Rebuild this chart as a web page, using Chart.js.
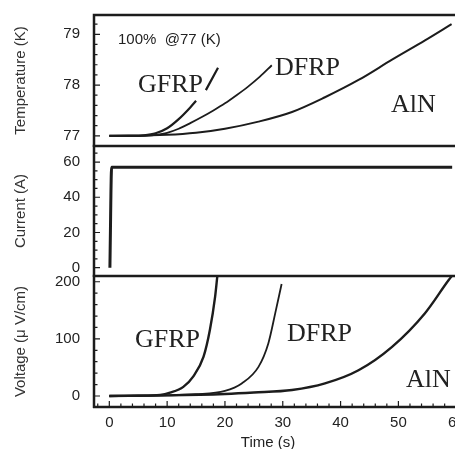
<!DOCTYPE html>
<html>
<head>
<meta charset="utf-8">
<script src="https://cdn.jsdelivr.net/npm/chart.js@4.4.0/dist/chart.umd.min.js"></script>
<style>
  html, body { margin: 0; padding: 0; background: #fff; overflow: hidden; }
  #wrap { position: relative; width: 455px; height: 449px; overflow: hidden; background: #fff; }
  canvas { position: absolute; left: 0; }
</style>
</head>
<body>
<div id="wrap">
  <canvas id="tempChart" width="470" height="171"></canvas>
  <canvas id="currChart" width="470" height="170"></canvas>
  <canvas id="voltChart" width="470" height="195"></canvas>
</div>
<script>
// shared time axis (s)
const timeTicks = [0, 10, 20, 30, 40, 50, 60];

// temperature (K)
const tempTicks = [77, 78, 79];
const gfrpTempTime = [0, 4, 6, 8, 10, 12, 14, 15, 16, 16.7, 18.8];
const gfrpTemp = [77, 77, 77.01, 77.05, 77.15, 77.33, 77.56, 77.69, null, 77.9, 78.34];
const dfrpTempTime = [0, 6, 8, 10, 12, 14, 16, 18, 20, 22, 24, 26, 28.1];
const dfrpTemp = [77, 77, 77.02, 77.06, 77.14, 77.25, 77.37, 77.5, 77.64, 77.8, 77.97, 78.16, 78.39];
const alnTempTime = [0, 10, 15, 20, 25.8, 31.6, 37.3, 43.1, 48.9, 54.6, 59.2];
const alnTemp = [77, 77.02, 77.06, 77.14, 77.28, 77.47, 77.76, 78.1, 78.5, 78.88, 79.2];

// current (A)
const currTicks = [0, 20, 40, 60];
const currTime = [0.1, 0.4, 59.3];
const curr = [0, 57, 57];

// voltage (uV/cm)
const voltTicks = [0, 100, 200];
const gfrpVoltTime = [0, 5, 8.8, 10.5, 12.8, 14.5, 16.3, 17.4, 18.3, 18.7];
const gfrpVolt = [0, 0.5, 2, 6, 16, 34, 69, 116, 174, 212];
const dfrpVoltTime = [0, 10, 15, 20, 22.9, 25.8, 27.5, 28.7, 29.8];
const dfrpVolt = [0, 1, 3, 9, 22, 51, 92, 145, 196];
const alnVoltTime = [0, 10, 20, 25, 31.6, 37.3, 43.1, 48.9, 54.6, 58.7, 59.4];
const alnVolt = [0, 1, 3.5, 6, 10.5, 22, 45, 86, 145, 203, 212];

const ink = '#1c1c1c';
const sans = '"Liberation Sans", Arial, sans-serif';
const serif = '"Liberation Serif", "Times New Roman", serif';

function pts(ts, vs) {
  return ts.map((t, i) => ({ x: t, y: vs[i] }));
}

function line(ts, vs, w) {
  return {
    data: pts(ts, vs),
    borderColor: ink,
    borderWidth: w || 2,
    pointRadius: 0,
    fill: false,
    spanGaps: false,
    cubicInterpolationMode: 'monotone'
  };
}

// one stacked panel; top = page y of plot top, h = plot height
function makePanel(id, top, h, yCfg, datasets, notes, showX) {
  const canvas = document.getElementById(id);
  const padTop = 20;
  const xAxisH = 44;
  canvas.style.top = (top - padTop) + 'px';
  canvas.height = padTop + h + (showX ? xAxisH : 20);
  const offY = top - padTop;

  const deco = {
    id: 'deco',
    afterDraw(chart) {
      const { ctx, chartArea: a, scales: { x, y } } = chart;
      ctx.save();
      // frame
      ctx.strokeStyle = ink;
      ctx.lineWidth = 2.5;
      ctx.beginPath();
      ctx.moveTo(a.left, a.bottom + 1);
      ctx.lineTo(a.left, a.top);
      ctx.lineTo(chart.width, a.top);
      if (showX) {
        ctx.moveTo(a.left - 1, a.bottom);
        ctx.lineTo(chart.width, a.bottom);
      }
      ctx.stroke();

      // inward ticks on the y axis
      ctx.lineWidth = 1.2;
      ctx.beginPath();
      const n = Math.round((yCfg.minorTo - yCfg.minorFrom) / yCfg.minor);
      for (let i = 0; i <= n; i++) {
        const v = yCfg.minorFrom + i * yCfg.minor;
        const major = yCfg.ticks.some(t => Math.abs(t - v) < 1e-6);
        const py = y.getPixelForValue(v);
        ctx.moveTo(a.left, py);
        ctx.lineTo(a.left + (major ? 6 : 3.5), py);
      }
      // inward ticks on the time axis
      if (showX) {
        for (let t = -2; t <= 60; t += 2) {
          const major = timeTicks.includes(t);
          const px = x.getPixelForValue(t);
          ctx.moveTo(px, a.bottom);
          ctx.lineTo(px, a.bottom - (major ? 6 : 3.5));
        }
      }
      ctx.stroke();

      // text notes
      ctx.fillStyle = '#222';
      notes.forEach(nt => {
        ctx.font = nt.font;
        ctx.textAlign = nt.align || 'left';
        ctx.textBaseline = nt.base || 'alphabetic';
        ctx.fillText(nt.text, nt.x, nt.y - offY);
      });
      ctx.restore();
    }
  };

  return new Chart(canvas, {
    type: 'line',
    data: { datasets },
    options: {
      responsive: false,
      animation: false,
      layout: { padding: { top: padTop, bottom: showX ? 0 : 20, left: 0, right: 8 } },
      plugins: { legend: { display: false }, tooltip: { enabled: false } },
      scales: {
        x: {
          type: 'linear',
          min: -2.65,
          max: 61,
          display: showX,
          afterBuildTicks: s => { s.ticks = timeTicks.map(v => ({ value: v })); },
          afterFit: s => {
            if (!showX) return;
            s.height = xAxisH; s.paddingLeft = 0; s.paddingRight = 0;
          },
          grid: { display: false, drawTicks: false },
          border: { display: false },
          ticks: { color: '#222', font: { family: sans, size: 15 }, padding: 7, maxRotation: 0, callback: v => String(v) }
        },
        y: {
          type: 'linear',
          min: yCfg.min,
          max: yCfg.max,
          afterBuildTicks: s => { s.ticks = yCfg.ticks.map(v => ({ value: v })); },
          afterFit: s => { s.width = 94; s.paddingTop = 0; s.paddingBottom = 0; },
          grid: { display: false, drawTicks: false },
          border: { display: false },
          ticks: { color: '#222', font: { family: sans, size: 15 }, padding: 14, callback: v => String(v) },
          title: {
            display: true,
            text: yCfg.title,
            color: '#333',
            font: { family: sans, size: 15 },
            padding: { top: 12, bottom: 0 }
          }
        }
      }
    },
    plugins: [deco]
  });
}

const labelFont = '26px ' + serif;
const noteFont = '15px ' + sans;

makePanel('tempChart', 15, 131,
  { min: 76.8, max: 79.38, ticks: tempTicks, minor: 0.2, minorFrom: 77, minorTo: 79.2, title: 'Temperature (K)' },
  [line(gfrpTempTime, gfrpTemp, 2.2), line(dfrpTempTime, dfrpTemp, 1.8), line(alnTempTime, alnTemp, 2)],
  [
    { text: '100%  @77 (K)', x: 118, y: 40, font: noteFont, base: 'middle' },
    { text: 'GFRP', x: 138, y: 92, font: labelFont },
    { text: 'DFRP', x: 275, y: 75, font: labelFont },
    { text: 'AlN', x: 391, y: 112, font: labelFont }
  ],
  false);

makePanel('currChart', 146, 130,
  { min: -4.7, max: 69.1, ticks: currTicks, minor: 5, minorFrom: 0, minorTo: 65, title: 'Current (A)' },
  [line(currTime, curr, 3)],
  [],
  false);

makePanel('voltChart', 276, 131,
  { min: -19.3, max: 210.1, ticks: voltTicks, minor: 20, minorFrom: 0, minorTo: 200, title: 'Voltage (\u03bc V/cm)' },
  [line(gfrpVoltTime, gfrpVolt, 2.4), line(dfrpVoltTime, dfrpVolt, 1.8), line(alnVoltTime, alnVolt, 2.4)],
  [
    { text: 'GFRP', x: 135, y: 347, font: labelFont },
    { text: 'DFRP', x: 287, y: 341, font: labelFont },
    { text: 'AlN', x: 406, y: 387, font: labelFont },
    { text: 'Time (s)', x: 268, y: 443, font: noteFont, align: 'center', base: 'middle' }
  ],
  true);
</script>
</body>
</html>
